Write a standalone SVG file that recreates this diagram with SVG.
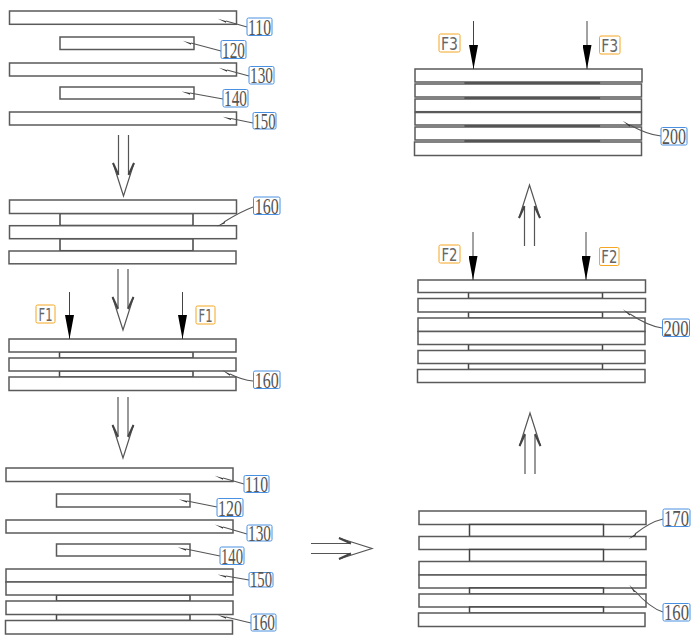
<svg xmlns="http://www.w3.org/2000/svg" width="700" height="642" viewBox="0 0 700 642">
<style>
.p{fill:#fff;stroke:#5a5a5a;stroke-width:1.5}
.c{fill:#fff;stroke:#444;stroke-width:1.5}
.t{fill:#555;stroke:#444;stroke-width:2.2}
.l{fill:none;stroke:#555;stroke-width:1.1}
.f{fill:none;stroke:#444;stroke-width:1}
.h{fill:none;stroke:#555;stroke-width:1.2}
.hb{fill:none;stroke:#444;stroke-width:2}
.bb{fill:#fff;stroke:#4a90e2;stroke-width:1}
.bo{fill:#fff;stroke:#f5a623;stroke-width:1}
.n{font-family:"Liberation Serif",serif;font-size:23px;fill:#555;text-anchor:middle}
.m{font-family:"DejaVu Sans",sans-serif;font-size:17px;fill:#666;text-anchor:middle}
</style>
<defs>
<marker id="lead" markerWidth="9" markerHeight="5" refX="0.5" refY="2" orient="auto-start-reverse" markerUnits="userSpaceOnUse"><path d="M9 2L0 2L9 3.6z" fill="#333" transform="rotate(180 4.5 2)"/></marker>
<marker id="force" markerWidth="24" markerHeight="9" refX="24" refY="4.5" orient="auto" viewBox="0 0 24 9" markerUnits="userSpaceOnUse"><path d="M0 0L24 4.5L0 9z" fill="#000"/></marker>
<g id="hollow"><path class="h" d="M-5-61V-22M5-61V-22M-10.500-33L0 0L10.500-33"/><path class="hb" d="M-10.500-33L-5-21M10.500-33L5-21"/></g>
</defs>

<g id="stack-a">
<rect class="p" x="9.500" y="11" width="227" height="13.300"/><rect class="p" x="60" y="37" width="134" height="12.500"/><rect class="p" x="9.500" y="63" width="227" height="13"/><rect class="p" x="60" y="87" width="134" height="12"/><rect class="p" x="9.500" y="112" width="227" height="13"/>
</g>
<g id="stack-b">
<rect class="c" x="60" y="213.500" width="133" height="12"/><rect class="c" x="60" y="238.700" width="133" height="12"/>
<rect class="p" x="9.500" y="200" width="227" height="13.500"/><rect class="p" x="9.500" y="225.700" width="227" height="13"/><rect class="p" x="9" y="251" width="227" height="12.800"/>
</g>
<g id="stack-c">
<rect class="c" x="59.500" y="352" width="133.500" height="6"/><rect class="c" x="59.500" y="371" width="133.500" height="6"/>
<rect class="p" x="9" y="339" width="227" height="13"/><rect class="p" x="9" y="358" width="227" height="13"/><rect class="p" x="9" y="377" width="227" height="13.500"/>
</g>
<g id="stack-d">
<rect class="p" x="6" y="468" width="227" height="13.500"/><rect class="p" x="56.500" y="494" width="133.500" height="13"/><rect class="p" x="6" y="520" width="227" height="13"/><rect class="p" x="56.500" y="544" width="133.500" height="12"/>
<rect class="c" x="56.500" y="595" width="133.500" height="6"/><rect class="c" x="56.500" y="614.500" width="133.500" height="6"/>
<rect class="p" x="6" y="569" width="227" height="13"/><rect class="p" x="6" y="582" width="227" height="13"/><rect class="p" x="6" y="601" width="227" height="13.500"/><rect class="p" x="5.500" y="620.500" width="227" height="13.500"/>
</g>
<g id="stack-e">
<rect class="p" x="419" y="511" width="227" height="13.500"/><rect class="c" x="469.500" y="524.500" width="134" height="12"/><rect class="p" x="419" y="536.500" width="227" height="13"/><rect class="c" x="469.500" y="549.500" width="134" height="12"/><rect class="p" x="419" y="561.500" width="227" height="13.500"/><rect class="p" x="419" y="575" width="227" height="13"/><rect class="c" x="469.500" y="588" width="134" height="6"/><rect class="p" x="419" y="594" width="227" height="13"/><rect class="c" x="469.500" y="607" width="134" height="6"/><rect class="p" x="418.500" y="613" width="226.500" height="13.500"/>
</g>
<g id="stack-f">
<rect class="c" x="468.500" y="292.500" width="134" height="6"/><rect class="c" x="468.500" y="312" width="134" height="6"/><rect class="c" x="468.500" y="344.500" width="134" height="6"/><rect class="c" x="468.500" y="363.500" width="134" height="6"/>
<rect class="p" x="418" y="280" width="227.500" height="12.500"/><rect class="p" x="418" y="298.500" width="227.500" height="13.500"/><rect class="p" x="418" y="318" width="227" height="13.500"/><rect class="p" x="418" y="331.500" width="227" height="13"/><rect class="p" x="418" y="350.500" width="227" height="13"/><rect class="p" x="417.500" y="369.500" width="227.500" height="13"/>
</g>
<g id="stack-g">
<rect class="t" x="465.500" y="82.500" width="133.500" height="1"/><rect class="t" x="465.500" y="97.500" width="133.500" height="1"/><rect class="t" x="465.500" y="125.500" width="133.500" height="1"/><rect class="t" x="465.500" y="140.500" width="133.500" height="1"/>
<rect class="p" x="415" y="69" width="227" height="13"/><rect class="p" x="415" y="84" width="226.500" height="13"/><rect class="p" x="415" y="99" width="226.500" height="12.700"/><rect class="p" x="415" y="112.500" width="226.500" height="12.500"/><rect class="p" x="415" y="127" width="226.500" height="13"/><rect class="p" x="414.500" y="142" width="227" height="13.500"/>
</g>

<g id="connectors">
<use href="#hollow" transform="translate(123.500,196)"/>
<use href="#hollow" transform="translate(123,330)"/>
<use href="#hollow" transform="translate(123,458)"/>
<use href="#hollow" transform="translate(529.500,185) rotate(180)"/>
<use href="#hollow" transform="translate(530,413) rotate(180)"/>
<use href="#hollow" transform="translate(372,548.500) rotate(-90)"/>
<path class="f" marker-end="url(#force)" d="M69.500 292V339"/>
<path class="f" marker-end="url(#force)" d="M182.500 292V339"/>
<path class="f" marker-end="url(#force)" d="M473 232V280"/>
<path class="f" marker-end="url(#force)" d="M586 232V280"/>
<path class="f" marker-end="url(#force)" d="M473.500 21V69"/>
<path class="f" marker-end="url(#force)" d="M587 21V69"/>
<path class="l" marker-start="url(#lead)" d="M226 21L247 27"/>
<path class="l" marker-start="url(#lead)" d="M191 43L221 51"/>
<path class="l" marker-start="url(#lead)" d="M227 70L249 76"/>
<path class="l" marker-start="url(#lead)" d="M190 93L223 99"/>
<path class="l" marker-start="url(#lead)" d="M231 118.500L253 123"/>
<path class="l" marker-start="url(#lead)" d="M224 222Q240 212 253 207"/>
<path class="l" marker-start="url(#lead)" d="M230 374Q242 380 253 381"/>
<path class="l" marker-start="url(#lead)" d="M223 478L244 484"/>
<path class="l" marker-start="url(#lead)" d="M187 501L217 507"/>
<path class="l" marker-start="url(#lead)" d="M223 527L247 534"/>
<path class="l" marker-start="url(#lead)" d="M186 549L220 556"/>
<path class="l" marker-start="url(#lead)" d="M226 576L249 580"/>
<path class="l" marker-start="url(#lead)" d="M226 617L251 623"/>
<path class="l" marker-start="url(#lead)" d="M630 125Q648 135 661 136"/>
<path class="l" marker-start="url(#lead)" d="M630 314Q648 326 662 328"/>
<path class="l" marker-start="url(#lead)" d="M635 534Q650 522 663 519"/>
<path class="l" marker-start="url(#lead)" d="M635 591Q650 608 663 612"/>
</g>

<g id="label-110a"><rect class="bb" x="247" y="18" width="25" height="17.500" rx="1.500"/><text class="n" x="259.500" y="34.500" textLength="23" lengthAdjust="spacingAndGlyphs">110</text></g>
<g id="label-120a"><rect class="bb" x="221" y="40.500" width="25" height="18" rx="1.500"/><text class="n" x="233.500" y="57.500" textLength="23" lengthAdjust="spacingAndGlyphs">120</text></g>
<g id="label-130a"><rect class="bb" x="249" y="66.500" width="25" height="17.500" rx="1.500"/><text class="n" x="261.500" y="83" textLength="23" lengthAdjust="spacingAndGlyphs">130</text></g>
<g id="label-140a"><rect class="bb" x="223" y="89.500" width="25" height="17.500" rx="1.500"/><text class="n" x="235.500" y="106" textLength="23" lengthAdjust="spacingAndGlyphs">140</text></g>
<g id="label-150a"><rect class="bb" x="253" y="112.500" width="23" height="16.500" rx="1.500"/><text class="n" x="264.500" y="128.500" textLength="22" lengthAdjust="spacingAndGlyphs">150</text></g>
<g id="label-160a"><rect class="bb" x="253.500" y="197" width="26.500" height="17.500" rx="1.500"/><text class="n" x="266.800" y="213.500" textLength="24" lengthAdjust="spacingAndGlyphs">160</text></g>
<g id="label-160b"><rect class="bb" x="253.500" y="371" width="26.500" height="17.500" rx="1.500"/><text class="n" x="266.800" y="387.500" textLength="24" lengthAdjust="spacingAndGlyphs">160</text></g>
<g id="label-110b"><rect class="bb" x="244" y="475.500" width="25" height="17" rx="1.500"/><text class="n" x="256.500" y="491.500" textLength="23" lengthAdjust="spacingAndGlyphs">110</text></g>
<g id="label-120b"><rect class="bb" x="217" y="498.500" width="26" height="18" rx="1.500"/><text class="n" x="230" y="515.500" textLength="24" lengthAdjust="spacingAndGlyphs">120</text></g>
<g id="label-130b"><rect class="bb" x="247" y="525" width="25" height="16" rx="1.500"/><text class="n" x="259.500" y="541" textLength="23" lengthAdjust="spacingAndGlyphs">130</text></g>
<g id="label-140b"><rect class="bb" x="220" y="547" width="24" height="17.500" rx="1.500"/><text class="n" x="232" y="563.500" textLength="22" lengthAdjust="spacingAndGlyphs">140</text></g>
<g id="label-150b"><rect class="bb" x="249" y="572.500" width="24" height="14.500" rx="1.500"/><text class="n" x="261" y="587" textLength="22" lengthAdjust="spacingAndGlyphs">150</text></g>
<g id="label-160c"><rect class="bb" x="251" y="614" width="25" height="17" rx="1.500"/><text class="n" x="263.500" y="630" textLength="23" lengthAdjust="spacingAndGlyphs">160</text></g>
<g id="label-200a"><rect class="bb" x="661" y="127.500" width="26" height="17.500" rx="1.500"/><text class="n" x="674" y="144" textLength="24" lengthAdjust="spacingAndGlyphs">200</text></g>
<g id="label-200b"><rect class="bb" x="662.500" y="319" width="27" height="17.500" rx="1.500"/><text class="n" x="676" y="335.500" textLength="25" lengthAdjust="spacingAndGlyphs">200</text></g>
<g id="label-170"><rect class="bb" x="663" y="509" width="27" height="17.500" rx="1.500"/><text class="n" x="676.500" y="525.500" textLength="25" lengthAdjust="spacingAndGlyphs">170</text></g>
<g id="label-160d"><rect class="bb" x="663" y="603.500" width="27" height="17.500" rx="1.500"/><text class="n" x="676.500" y="620" textLength="25" lengthAdjust="spacingAndGlyphs">160</text></g>
<g id="label-f1a"><rect class="bo" x="36" y="305" width="19" height="18" rx="1.500"/><text class="m" x="45.500" y="320.500" textLength="14" lengthAdjust="spacingAndGlyphs">F1</text></g>
<g id="label-f1b"><rect class="bo" x="196" y="306" width="19" height="18" rx="1.500"/><text class="m" x="205.500" y="321.500" textLength="14" lengthAdjust="spacingAndGlyphs">F1</text></g>
<g id="label-f2a"><rect class="bo" x="439" y="245" width="21" height="18" rx="1.500"/><text class="m" x="449.500" y="260.500" textLength="16" lengthAdjust="spacingAndGlyphs">F2</text></g>
<g id="label-f2b"><rect class="bo" x="599.500" y="247.500" width="19.500" height="18" rx="1.500"/><text class="m" x="609.300" y="263" textLength="16" lengthAdjust="spacingAndGlyphs">F2</text></g>
<g id="label-f3a"><rect class="bo" x="439" y="34" width="21" height="18" rx="1.500"/><text class="m" x="449.500" y="49.500" textLength="17" lengthAdjust="spacingAndGlyphs">F3</text></g>
<g id="label-f3b"><rect class="bo" x="599.500" y="36" width="20.500" height="18" rx="1.500"/><text class="m" x="609.800" y="51.500" textLength="17" lengthAdjust="spacingAndGlyphs">F3</text></g>
</svg>
